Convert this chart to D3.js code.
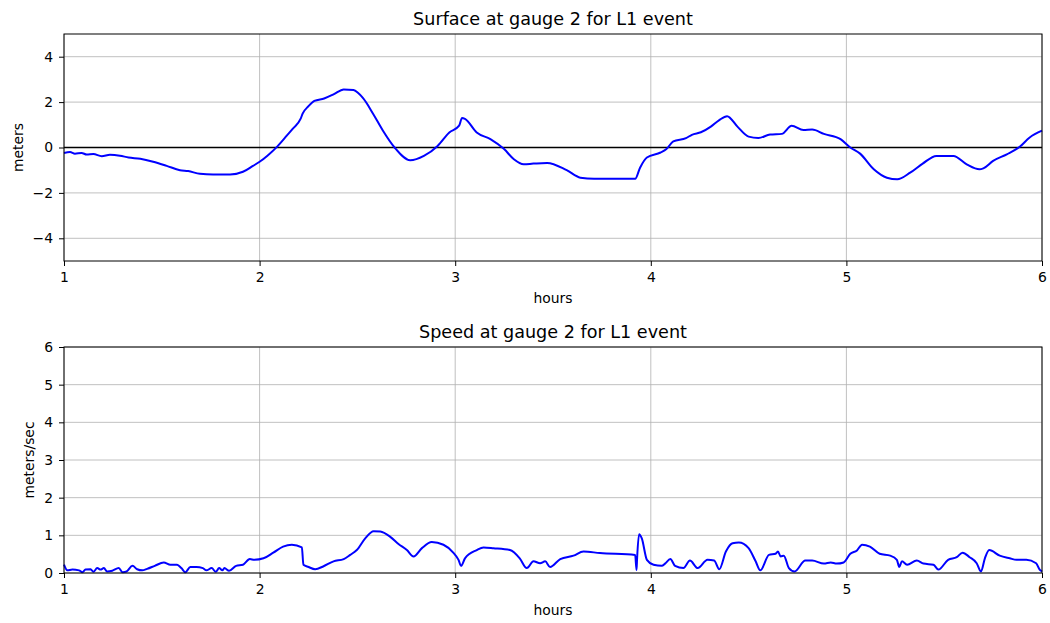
<!DOCTYPE html>
<html>
<head>
<meta charset="utf-8">
<script src="https://cdn.jsdelivr.net/npm/d3@7"></script>
<style>
  body { margin: 0; background: #fff; }
  svg { font-family: "DejaVu Sans", sans-serif; }
</style>
</head>
<body>
<svg id="chart" width="1050" height="623"></svg>
<script>
// surface elevation (hours, meters)
const surfHours = [1.0,1.031,1.056,1.09,1.116,1.15,1.193,1.235,1.286,1.33,1.39,1.456,1.525,1.593,1.635,1.695,1.762,1.849,1.915,1.966,2.0,2.04,2.09,2.14,2.17,2.21,2.22,2.25,2.28,2.33,2.38,2.43,2.48,2.53,2.58,2.63,2.69,2.77,2.84,2.91,2.97,3.02,3.035,3.05,3.11,3.18,3.25,3.30,3.35,3.40,3.47,3.57,3.64,3.71,3.92,3.945,3.98,4.05,4.08,4.115,4.18,4.21,4.256,4.307,4.35,4.39,4.443,4.50,4.55,4.61,4.67,4.72,4.78,4.825,4.885,4.97,5.02,5.07,5.14,5.207,5.26,5.326,5.39,5.46,5.547,5.615,5.68,5.70,5.75,5.82,5.886,5.937,6.0];
const surfValues = [-0.24,-0.20,-0.27,-0.24,-0.31,-0.29,-0.38,-0.32,-0.36,-0.44,-0.50,-0.63,-0.81,-1.0,-1.04,-1.16,-1.19,-1.19,-1.07,-0.81,-0.63,-0.36,0.04,0.53,0.83,1.27,1.49,1.82,2.05,2.16,2.35,2.56,2.53,2.16,1.49,0.75,0.0,-0.56,-0.37,0.07,0.66,0.96,1.30,1.26,0.66,0.37,-0.07,-0.52,-0.74,-0.71,-0.68,-1.0,-1.33,-1.38,-1.38,-0.89,-0.44,-0.22,-0.07,0.27,0.41,0.56,0.67,0.92,1.21,1.38,0.92,0.48,0.42,0.57,0.60,0.96,0.77,0.79,0.60,0.37,0.0,-0.27,-0.96,-1.33,-1.40,-1.11,-0.71,-0.37,-0.37,-0.74,-0.96,-0.92,-0.59,-0.30,0.03,0.44,0.74];

// current speed (hours, m/s)
const speedHours = [1.0,1.017,1.043,1.077,1.094,1.11,1.136,1.15,1.17,1.187,1.204,1.22,1.247,1.28,1.30,1.32,1.35,1.374,1.40,1.425,1.464,1.51,1.544,1.578,1.60,1.62,1.646,1.677,1.71,1.728,1.755,1.776,1.793,1.81,1.82,1.844,1.88,1.915,1.95,1.973,2.02,2.07,2.12,2.165,2.216,2.224,2.25,2.284,2.327,2.378,2.43,2.463,2.497,2.54,2.583,2.617,2.668,2.71,2.753,2.787,2.83,2.88,2.94,2.99,3.017,3.03,3.05,3.11,3.145,3.196,3.28,3.33,3.366,3.40,3.434,3.46,3.485,3.537,3.605,3.656,3.74,3.92,3.927,3.93,3.94,3.954,3.98,4.014,4.056,4.073,4.10,4.124,4.167,4.20,4.24,4.29,4.324,4.35,4.384,4.418,4.45,4.50,4.536,4.56,4.604,4.638,4.65,4.664,4.68,4.706,4.735,4.79,4.825,4.885,4.92,4.95,4.986,5.02,5.054,5.08,5.12,5.17,5.224,5.258,5.27,5.284,5.31,5.36,5.394,5.445,5.47,5.52,5.564,5.594,5.63,5.666,5.688,5.708,5.73,5.784,5.835,5.87,5.92,5.97,5.988,6.0];
const speedValues = [0.22,0.07,0.09,0.07,0.02,0.09,0.10,0.03,0.13,0.09,0.13,0.04,0.06,0.13,0.02,0.04,0.19,0.10,0.07,0.11,0.19,0.28,0.22,0.22,0.13,0.02,0.16,0.16,0.13,0.07,0.13,0.03,0.13,0.07,0.13,0.06,0.19,0.22,0.37,0.35,0.39,0.54,0.70,0.75,0.68,0.22,0.16,0.10,0.18,0.31,0.37,0.48,0.61,0.92,1.11,1.10,0.96,0.77,0.61,0.44,0.66,0.82,0.75,0.54,0.35,0.19,0.39,0.61,0.68,0.66,0.61,0.39,0.13,0.31,0.26,0.31,0.16,0.37,0.46,0.57,0.53,0.48,0.08,0.40,1.03,0.92,0.35,0.22,0.19,0.25,0.37,0.19,0.13,0.33,0.13,0.35,0.33,0.10,0.57,0.79,0.81,0.66,0.31,0.07,0.48,0.51,0.57,0.44,0.46,0.13,0.04,0.33,0.33,0.25,0.28,0.25,0.28,0.51,0.60,0.75,0.70,0.51,0.46,0.35,0.16,0.31,0.22,0.33,0.25,0.22,0.09,0.35,0.42,0.54,0.42,0.26,0.04,0.39,0.61,0.46,0.39,0.35,0.35,0.26,0.09,0.04];

const xTicks = [1, 2, 3, 4, 5, 6];
const surfTicks = [-4, -2, 0, 2, 4];
const speedTicks = [0, 1, 2, 3, 4, 5, 6];

const svg = d3.select("#chart");
const left = 64, right = 1042;

// draws one panel: frame, grid, axes, labels, line
function panel(top, bottom, yDomain, yTicks, hours, values, title, ylabel, ylabelX, zeroLine) {
  const x = d3.scaleLinear().domain([1, 6]).range([left, right]);
  const y = d3.scaleLinear().domain(yDomain).range([bottom, top]);
  const g = svg.append("g");

  // grid
  g.selectAll(".vg").data(xTicks).enter().append("line")
    .attr("x1", d => x(d)).attr("x2", d => x(d))
    .attr("y1", top).attr("y2", bottom)
    .attr("stroke", "#b0b0b0").attr("stroke-width", 0.8);
  g.selectAll(".hg").data(yTicks).enter().append("line")
    .attr("x1", left).attr("x2", right)
    .attr("y1", d => y(d)).attr("y2", d => y(d))
    .attr("stroke", "#b0b0b0").attr("stroke-width", 0.8);

  if (zeroLine) {
    g.append("line")
      .attr("x1", left).attr("x2", right)
      .attr("y1", y(0)).attr("y2", y(0))
      .attr("stroke", "#000").attr("stroke-width", 1.5);
  }

  const line = d3.line()
    .x((d, i) => x(hours[i]))
    .y(d => y(d))
    .curve(d3.curveMonotoneX);
  g.append("path")
    .datum(values)
    .attr("d", line)
    .attr("fill", "none")
    .attr("stroke", "#0000ff")
    .attr("stroke-width", 2)
    .attr("stroke-linejoin", "round");

  // frame
  g.append("rect")
    .attr("x", left).attr("y", top)
    .attr("width", right - left).attr("height", bottom - top)
    .attr("fill", "none").attr("stroke", "#000").attr("stroke-width", 1);

  // axes
  const xAxis = g.append("g")
    .attr("transform", `translate(0,${bottom})`)
    .call(d3.axisBottom(x).tickValues(xTicks).tickFormat(d3.format("d")).tickSize(5).tickPadding(6));
  const yAxis = g.append("g")
    .attr("transform", `translate(${left},0)`)
    .call(d3.axisLeft(y).tickValues(yTicks).tickFormat(d => d < 0 ? "\u2212" + Math.abs(d) : d).tickSize(5).tickPadding(6));
  [xAxis, yAxis].forEach(a => {
    a.select(".domain").remove();
    a.selectAll("text").attr("font-size", 13.9).attr("fill", "#000").attr("font-family", "DejaVu Sans");
    a.selectAll("line").attr("stroke", "#000");
  });

  g.append("text")
    .attr("x", (left + right) / 2).attr("y", top - 9)
    .attr("text-anchor", "middle")
    .attr("font-size", 17.6)
    .text(title);
  g.append("text")
    .attr("x", (left + right) / 2).attr("y", bottom + 42)
    .attr("text-anchor", "middle")
    .attr("font-size", 13.9)
    .text("hours");
  g.append("text")
    .attr("transform", `translate(${ylabelX},${(top + bottom) / 2}) rotate(-90)`)
    .attr("text-anchor", "middle")
    .attr("font-size", 13.9)
    .text(ylabel);
}

panel(34, 261, [-5, 5], surfTicks, surfHours, surfValues, "Surface at gauge 2 for L1 event", "meters", 23, true);
panel(347, 573, [0, 6], speedTicks, speedHours, speedValues, "Speed at gauge 2 for L1 event", "meters/sec", 34, false);
</script>
</body>
</html>
